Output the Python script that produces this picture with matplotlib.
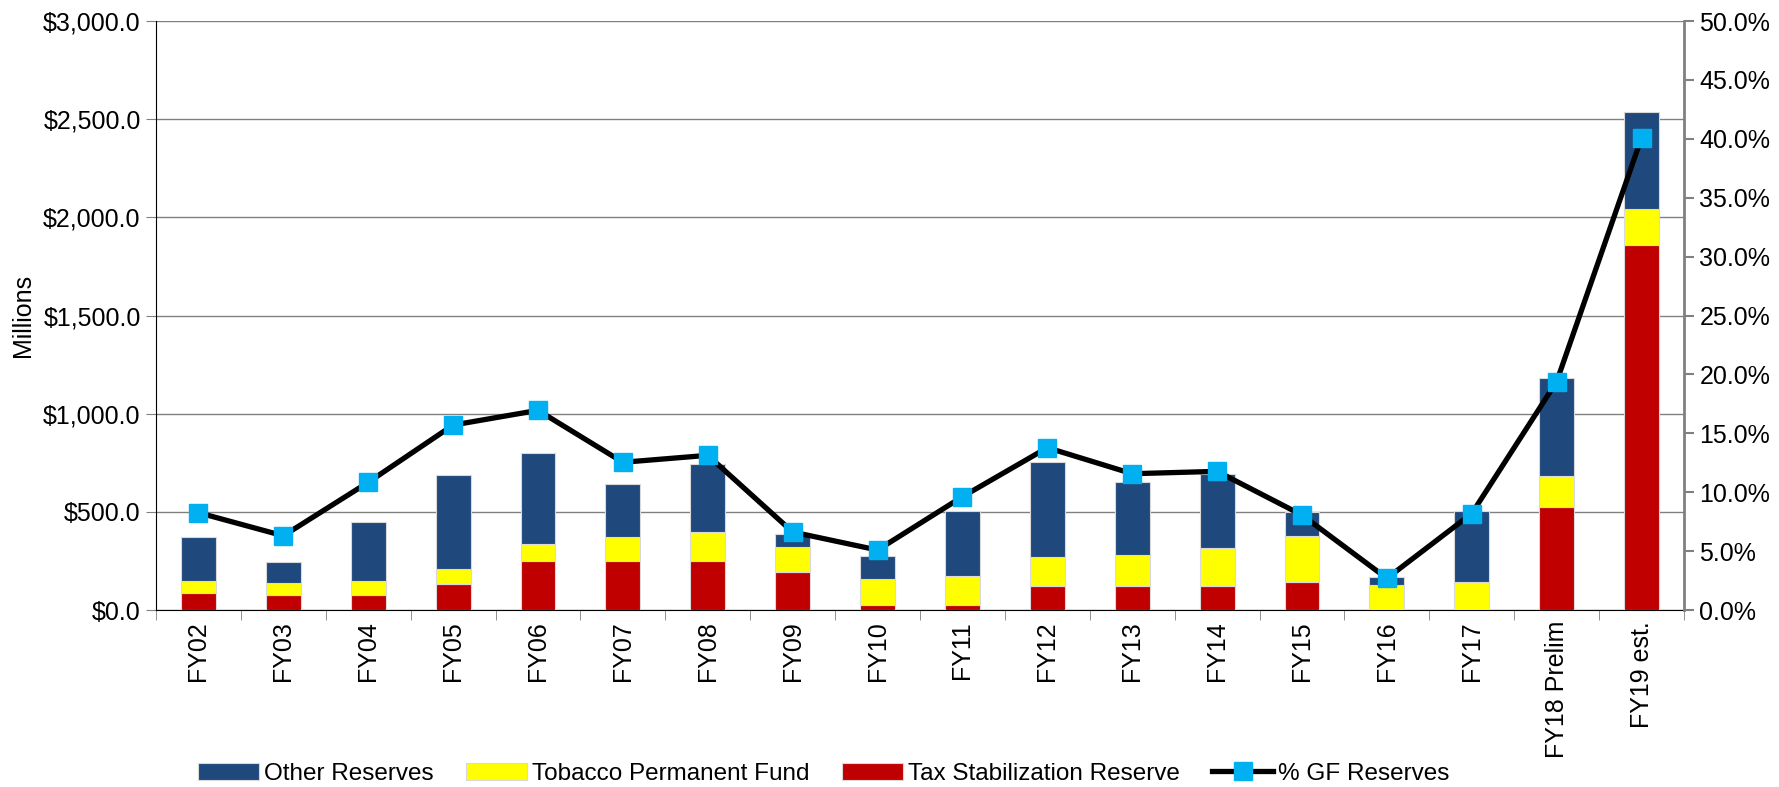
import matplotlib.pyplot as plt
import numpy as np
from matplotlib.ticker import FuncFormatter, MultipleLocator

plt.rcParams['font.family'] = ['Liberation Sans', 'DejaVu Sans']

# Data (millions of dollars / percent)
years = ['FY02', 'FY03', 'FY04', 'FY05', 'FY06', 'FY07', 'FY08', 'FY09', 'FY10',
         'FY11', 'FY12', 'FY13', 'FY14', 'FY15', 'FY16', 'FY17', 'FY18 Prelim', 'FY19 est.']
tax_stab = [87, 75, 75, 134, 251, 251, 251, 195, 25, 25, 122, 122, 122, 144, 0, 0, 523, 1857]
tobacco = [59, 64, 73, 75, 87, 119, 148, 124, 131, 148, 146, 158, 192, 231, 125, 142, 160, 186]
other = [226, 105, 298, 477, 460, 270, 344, 68, 121, 330, 484, 372, 378, 122, 42, 362, 500, 494]
gf_pct = [8.26, 6.3, 10.84, 15.7, 16.95, 12.54, 13.13, 6.62, 5.09, 9.62, 13.78, 11.57,
          11.77, 8.06, 2.69, 8.19, 19.39, 40.09]

x = np.arange(len(years))
tax_stab = np.array(tax_stab)
tobacco = np.array(tobacco)
other = np.array(other)

fs = 18

fig = plt.figure(figsize=(17.79, 7.87), dpi=100)
ax = fig.add_axes([0.0877, 0.2249, 0.9466 - 0.0877, 0.9733 - 0.2249])

w = 0.41
edge = dict(edgecolor='#d9d9d9', linewidth=0.8)
b_tax = ax.bar(x, tax_stab, w, color='#C00000', label='Tax Stabilization Reserve', zorder=3, **edge)
b_tob = ax.bar(x, tobacco, w, bottom=tax_stab, color='#FFFF00',
               label='Tobacco Permanent Fund', zorder=3, **edge)
b_oth = ax.bar(x, other, w, bottom=tax_stab + tobacco, color='#1F497D',
               label='Other Reserves', zorder=3, **edge)

ax.set_xlim(-0.5, len(years) - 0.5)
ax.set_ylim(0, 3000)
ax.yaxis.set_major_locator(MultipleLocator(500))
ax.yaxis.set_major_formatter(FuncFormatter(lambda v, p: '${:,.1f}'.format(v)))
ax.grid(axis='y', color='#808080', linewidth=1.0, zorder=0)
ax.set_axisbelow(True)
ax.set_ylabel('Millions', fontsize=fs, labelpad=6)

ax.set_xticks(x)
ax.set_xticklabels(years, rotation=90, fontsize=fs)
ax.set_xticks(np.arange(-0.5, len(years), 1), minor=True)
ax.tick_params(axis='x', which='major', length=0, pad=8)
ax.tick_params(axis='x', which='minor', length=7, color='#808080', direction='out')
ax.tick_params(axis='y', labelsize=fs, length=7, color='#808080', direction='out', pad=4)

ax.spines['top'].set_visible(False)
ax.spines['right'].set_visible(False)
ax.spines['left'].set_color('black')
ax.spines['bottom'].set_color('black')

ax2 = ax.twinx()
line, = ax2.plot(x, gf_pct, color='black', linewidth=3.8, marker='s', markersize=13,
                 markerfacecolor='#00B0F0', markeredgecolor='#00B0F0',
                 label='% GF Reserves', zorder=5)
ax2.set_ylim(0, 50)
ax2.yaxis.set_major_locator(MultipleLocator(5))
ax2.yaxis.set_major_formatter(FuncFormatter(lambda v, p: '{:.1f}%'.format(v)))
ax2.tick_params(axis='y', labelsize=fs, length=7, color='#808080', width=1.5, direction='out', pad=4)
ax2.spines['right'].set_color('#808080')
ax2.spines['right'].set_linewidth(2)
for s in ['top', 'left', 'bottom']:
    ax2.spines[s].set_visible(False)

fig.legend([b_oth, b_tob, b_tax, line],
           ['Other Reserves', 'Tobacco Permanent Fund', 'Tax Stabilization Reserve', '% GF Reserves'],
           loc='center', bbox_to_anchor=(0.463, 0.017), ncol=4, frameon=False,
           fontsize=17.5, handlelength=2.5, handleheight=0.7, columnspacing=1.35,
           handletextpad=0.2)

fig.savefig('out.png', dpi=100)
